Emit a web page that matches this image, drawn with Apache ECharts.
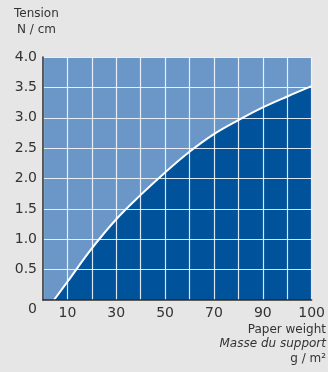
<!DOCTYPE html>
<html>
<head>
<meta charset="utf-8">
<script src="https://cdn.jsdelivr.net/npm/echarts@6/dist/echarts.min.js"></script>
<style>
html,body{margin:0;padding:0;background:#e6e6e6;}
#c{width:328px;height:372px;}
</style>
</head>
<body>
<div id="c"></div>
<script>
// Curve: x in axis units (grid columns of 10), y = tension N/cm
const curveX = [4.5, 10, 20, 30, 40, 50, 60, 70, 80, 90, 100, 110];
const curveY = [0, 0.30, 0.85, 1.33, 1.73, 2.10, 2.44, 2.73, 2.96, 3.17, 3.35, 3.52];
// x tick labels by tick value
const xTickValues = [10, 30, 50, 70, 90, 110];
const xTickLabels = ['10', '30', '50', '70', '90', '100'];
const yTickLabels = ['0.5', '1.0', '1.5', '2.0', '2.5', '3.0', '3.5', '4.0'];
const yTickValues = [0.5, 1, 1.5, 2, 2.5, 3, 3.5, 4];
const yTitle = ['Tension', 'N / cm'];
const xTitle = ['Paper weight', 'Masse du support', 'g / m²'];
const originLabel = '0';

const FONT = 'DejaVu Sans';
const TXT = '#333333';

const chart = echarts.init(document.getElementById('c'), null, {renderer: 'canvas'});
const data = curveX.map((x, i) => [x, curveY[i]]);

chart.setOption({
  backgroundColor: '#e6e6e6',
  animation: false,
  grid: {left: 43, right: 14, top: 57, bottom: 72, show: true, backgroundColor: '#6b96c8', borderWidth: 0},
  xAxis: {
    type: 'value', min: 0, max: 110, interval: 10, z: 3,
    axisLine: {show: true, onZero: false, lineStyle: {color: '#2a2a2a', width: 1.5}},
    axisTick: {show: false},
    splitLine: {show: true, lineStyle: {color: 'rgba(255,255,255,0.85)', width: 1.2}},
    axisLabel: {
      color: TXT, fontFamily: FONT, fontSize: 14, margin: 6,
      formatter: v => { const i = xTickValues.indexOf(v); return i >= 0 ? xTickLabels[i] : ''; }
    }
  },
  yAxis: {
    type: 'value', min: 0, max: 4, interval: 0.5, z: 3,
    axisLine: {show: true, lineStyle: {color: '#2a2a2a', width: 1.5}},
    axisTick: {show: false},
    splitLine: {show: true, lineStyle: {color: 'rgba(255,255,255,0.85)', width: 1.2}},
    axisLabel: {
      color: TXT, fontFamily: FONT, fontSize: 14, margin: 6,
      formatter: v => { const i = yTickValues.findIndex(t => Math.abs(t - v) < 1e-6); return i >= 0 ? yTickLabels[i] : ''; }
    }
  },
  series: [{
    type: 'line', data: data, smooth: 0.4, symbol: 'none', z: 2,
    lineStyle: {color: '#ffffff', width: 2},
    areaStyle: {color: '#00529b', opacity: 1}
  }],
  graphic: [
    {type: 'text', left: 14, top: 8, style: {text: yTitle[0], font: '12px "' + FONT + '"', fill: TXT}},
    {type: 'text', left: 17, top: 24, style: {text: yTitle[1], font: '12px "' + FONT + '"', fill: TXT}},
    {type: 'text', right: 291, top: 302, style: {text: originLabel, font: '14px "' + FONT + '"', fill: TXT}},
    {type: 'text', right: 2, top: 324, style: {text: xTitle[0], font: '12px "' + FONT + '"', fill: TXT}},
    {type: 'text', right: 2, top: 338, style: {text: xTitle[1], font: 'italic 12px "' + FONT + '"', fill: TXT}},
    {type: 'text', right: 2, top: 353, style: {text: xTitle[2], font: '12px "' + FONT + '"', fill: TXT}}
  ]
});
</script>
</body>
</html>
